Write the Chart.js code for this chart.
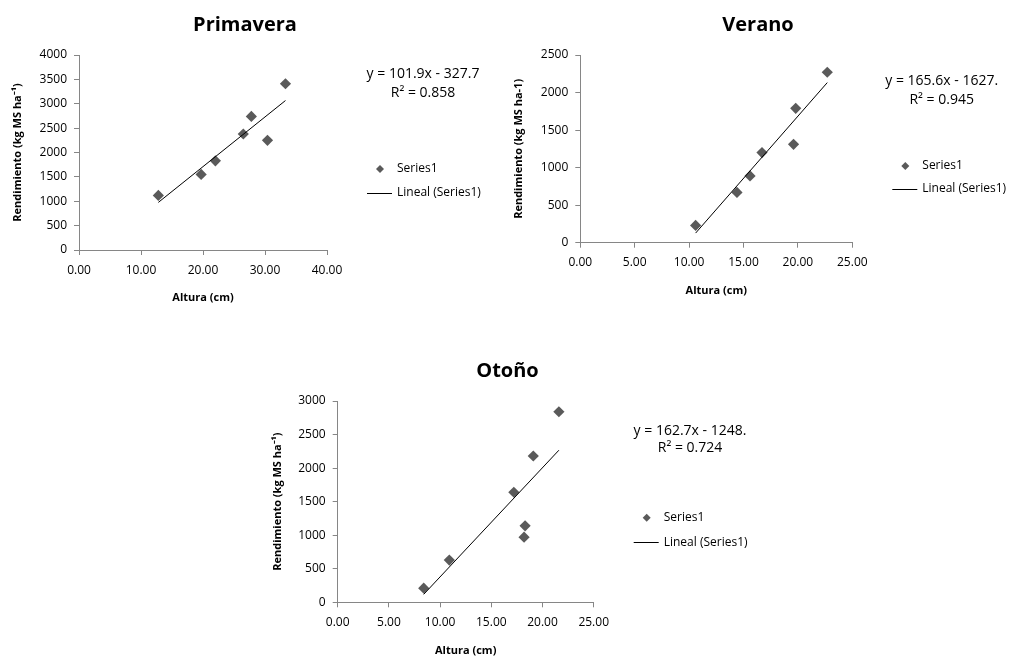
<!DOCTYPE html>
<html>
<head>
<meta charset="utf-8">
<script src="https://cdn.jsdelivr.net/npm/chart.js@4.4.1/dist/chart.umd.min.js"></script>
<style>
html,body{margin:0;padding:0;background:#fff;overflow:hidden;width:1010px;height:657px;}
canvas{position:absolute;display:block;}
</style>
</head>
<body>
<canvas id="c1" width="490" height="320" style="left:0px;top:0px"></canvas>
<canvas id="c2" width="500" height="313" style="left:508px;top:0px"></canvas>
<canvas id="c3" width="505" height="311" style="left:255px;top:346px"></canvas>
<script>
// ---------- DATA ----------
const primaveraX = [12.8, 19.7, 22.0, 26.5, 27.8, 30.4, 33.3];
const primaveraY = [1120, 1550, 1830, 2380, 2740, 2250, 3410];
const primaveraFit = [101.9, -327.7];
const primaveraEq = ['y = 101.9x - 327.7', 'R\u00B2 = 0.858'];
const primaveraXTicks = [0, 10, 20, 30, 40];
const primaveraYTicks = [0, 500, 1000, 1500, 2000, 2500, 3000, 3500, 4000];

const veranoX = [10.6, 14.4, 15.6, 16.7, 19.6, 19.8, 22.7];
const veranoY = [230, 670, 890, 1200, 1310, 1790, 2270];
const veranoFit = [165.6, -1627];
const veranoEq = ['y = 165.6x - 1627.', 'R\u00B2 = 0.945'];
const veranoXTicks = [0, 5, 10, 15, 20, 25];
const veranoYTicks = [0, 500, 1000, 1500, 2000, 2500];

const otonoX = [8.4, 10.9, 17.2, 18.3, 18.2, 19.1, 21.6];
const otonoY = [210, 630, 1640, 1140, 970, 2180, 2840];
const otonoFit = [162.7, -1248];
const otonoEq = ['y = 162.7x - 1248.', 'R\u00B2 = 0.724'];
const otonoXTicks = [0, 5, 10, 15, 20, 25];
const otonoYTicks = [0, 500, 1000, 1500, 2000, 2500, 3000];

const seriesName = 'Series1';
const trendName = 'Lineal (Series1)';
const xTitle = 'Altura (cm)';

// ---------- STYLE ----------
const FONT = "'Open Sans', 'Liberation Sans', sans-serif";
const MARK = '#5a5a5a';
const AXIS = '#868686';

const sidePlugin = {
  id: 'side',
  afterDraw(chart, args, o) {
    const {ctx, chartArea} = chart;
    const r = chartArea.right;
    ctx.save();
    ctx.fillStyle = '#000';
    ctx.textBaseline = 'middle';
    ctx.textAlign = 'center';
    ctx.font = '14px ' + FONT;
    o.eq.forEach((t, i) => ctx.fillText(t, r + o.eqDx, o.eqY + i * o.eqGap));
    // legend: marker
    const mx = r + 53, my = o.legY, mr = 4;
    ctx.fillStyle = MARK;
    ctx.beginPath();
    ctx.moveTo(mx, my - mr); ctx.lineTo(mx + mr, my); ctx.lineTo(mx, my + mr); ctx.lineTo(mx - mr, my);
    ctx.closePath(); ctx.fill();
    // legend: line
    const ly = o.legY + o.legGap;
    ctx.strokeStyle = '#000'; ctx.lineWidth = 1;
    ctx.beginPath(); ctx.moveTo(r + 40, Math.round(ly) + 0.5); ctx.lineTo(r + 65, Math.round(ly) + 0.5); ctx.stroke();
    ctx.fillStyle = '#000';
    ctx.textAlign = 'left';
    ctx.font = '12px ' + FONT;
    ctx.fillText(o.names[0], r + 70, my);
    ctx.fillText(o.names[1], r + 70, ly);
    ctx.restore();
  }
};

function buildChart(id, c) {
  const pts = c.x.map((v, i) => ({x: v, y: c.y[i]}));
  const xmin = Math.min(...c.x), xmax = Math.max(...c.x);
  const trend = [xmin, xmax].map(v => ({x: v, y: c.fit[0] * v + c.fit[1]}));
  return new Chart(document.getElementById(id), {
    type: 'scatter',
    data: {
      datasets: [
        {label: seriesName, data: pts, pointStyle: 'rectRot', pointRadius: 5.6,
         backgroundColor: MARK, borderColor: MARK, borderWidth: 0, order: 1},
        {label: trendName, data: trend, showLine: true, pointRadius: 0,
         borderColor: '#000', borderWidth: 1, order: 0}
      ]
    },
    options: {
      responsive: false,
      animation: false,
      events: [],
      layout: {padding: 0},
      plugins: {
        legend: {display: false},
        tooltip: {enabled: false},
        title: {display: true, text: c.title, color: '#000',
                font: {family: FONT, size: 20, weight: 'bold'}, padding: {top: 13, bottom: 18}},
        side: {eq: c.eq, eqDx: c.eqDx, eqY: c.eqY, eqGap: c.eqGap, legY: c.legY, legGap: c.legGap,
               names: [seriesName, trendName]}
      },
      scales: {
        x: {
          type: 'linear', position: 'bottom',
          min: c.xt[0], max: c.xt[c.xt.length - 1],
          afterBuildTicks: s => { s.ticks = c.xt.map(v => ({value: v})); },
          afterFit: s => { s.height = c.xh; },
          ticks: {callback: v => Number(v).toFixed(2), color: '#000', font: {family: FONT, size: 12},
                  padding: 8, maxRotation: 0, autoSkip: false},
          grid: {drawOnChartArea: false, tickLength: 5, color: AXIS},
          border: {color: AXIS},
          title: {display: true, text: xTitle, color: '#000', font: {family: FONT, size: 11, weight: 'bold'},
                  padding: {top: 0, bottom: c.xtb}}
        },
        y: {
          type: 'linear', position: 'left',
          min: c.yt[0], max: c.yt[c.yt.length - 1],
          afterBuildTicks: s => { s.ticks = c.yt.map(v => ({value: v})); },
          afterFit: s => { s.width = c.yw; },
          ticks: {callback: v => String(v), color: '#000', font: {family: FONT, size: 12}, padding: 7, autoSkip: false},
          grid: {drawOnChartArea: false, tickLength: 5, color: AXIS},
          border: {color: AXIS},
          title: {display: true, text: c.ytitle, color: '#000', font: {family: FONT, size: 11, weight: 'bold'},
                  padding: {top: c.ytp, bottom: 0}}
        },
        side: {
          type: 'linear', position: 'right', display: true,
          afterFit: s => { s.width = c.padR; },
          ticks: {display: false}, grid: {display: false}, border: {display: false}
        }
      }
    },
    plugins: [sidePlugin]
  });
}

function init() {
  buildChart('c1', {title: 'Primavera', x: primaveraX, y: primaveraY, fit: primaveraFit, eq: primaveraEq,
    xt: primaveraXTicks, yt: primaveraYTicks, ytitle: 'Rendimiento (kg MS ha\u207B\u00B9)',
    yw: 79, padR: 163, xh: 70, xtb: 15.4, ytp: 11.4,
    eqDx: 96, eqY: 74, eqGap: 19, legY: 169, legGap: 24});
  buildChart('c2', {title: 'Verano', x: veranoX, y: veranoY, fit: veranoFit, eq: veranoEq,
    xt: veranoXTicks, yt: veranoYTicks, ytitle: 'Rendimiento (kg MS ha-1)',
    yw: 72.3, padR: 155.7, xh: 70.3, xtb: 15.4, ytp: 4.4,
    eqDx: 89.4, eqY: 81, eqGap: 19, legY: 166, legGap: 23});
  buildChart('c3', {title: 'Oto\u00F1o', x: otonoX, y: otonoY, fit: otonoFit, eq: otonoEq,
    xt: otonoXTicks, yt: otonoYTicks, ytitle: 'Rendimiento (kg MS ha\u207B\u00B9)',
    yw: 82.7, padR: 166.3, xh: 54.7, xtb: 0, ytp: 16.7,
    eqDx: 96.3, eqY: 85, eqGap: 17.5, legY: 171.7, legGap: 24.6});
}
init();
</script>
</body>
</html>
